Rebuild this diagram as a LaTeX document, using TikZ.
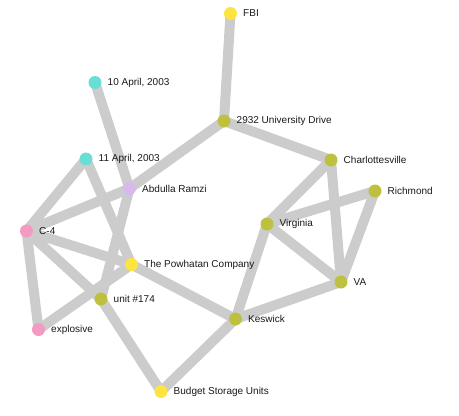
\documentclass[tikz,border=0pt]{standalone}
\usepackage{fontspec}
\setmainfont{Liberation Sans}
\usetikzlibrary{backgrounds}
\definecolor{nyellow}{HTML}{FDE43F}
\definecolor{ncyan}{HTML}{6ADDD6}
\definecolor{nlilac}{HTML}{D9B8F0}
\definecolor{npink}{HTML}{F49AC2}
\definecolor{nolive}{HTML}{C0C040}
\definecolor{edgegray}{HTML}{CCCCCC}
\begin{document}
\begin{tikzpicture}[x=1pt, y=-1pt,
  ent/.style={circle, inner sep=0pt, minimum size=13pt, fill=#1},
  every label/.style={font=\fontsize{10}{12}\selectfont, text=black!90, label distance=2.5pt},
  link/.style={edgegray, line width=10pt}]
  \useasboundingbox (0,0) rectangle (459,416);
  % --- entities ------------------------------------------------------
  \node[ent=nyellow, label=right:FBI]                  (fbi)   at (230.5, 13.5) {};
  \node[ent=ncyan,   label=right:{10 April, 2003}]     (apr10) at (95, 82.5) {};
  \node[ent=nolive,  label=right:2932 University Drive] (univ) at (224, 121) {};
  \node[ent=ncyan,   label=right:{11 April, 2003}]     (apr11) at (86, 159) {};
  \node[ent=nolive,  label=right:Charlottesville]      (cville) at (331, 160) {};
  \node[ent=nlilac,  label=right:Abdulla Ramzi]        (ramzi) at (129.5, 188.5) {};
  \node[ent=nolive,  label=right:Richmond]             (rich)  at (375, 191) {};
  \node[ent=nolive,  label=right:Virginia]             (virg)  at (267, 224) {};
  \node[ent=npink,   label=right:C-4]                  (cfour) at (26.5, 231) {};
  \node[ent=nyellow, label=right:The Powhatan Company] (powh)  at (131.5, 264.5) {};
  \node[ent=nolive,  label=right:VA]                   (va)    at (341, 282) {};
  \node[ent=nolive,  label=right:unit \#174]           (unit)  at (101, 299) {};
  \node[ent=nolive,  label=right:Keswick]              (kesw)  at (235.5, 319) {};
  \node[ent=npink,   label=right:explosive]            (expl)  at (38.5, 329.5) {};
  \node[ent=nyellow, label=right:Budget Storage Units] (budget) at (161, 391.5) {};
  % --- links (behind the entities) -----------------------------------
  \begin{scope}[on background layer]
    \draw[link] (fbi.center) -- (univ.center);
    \draw[link] (univ.center) -- (cville.center);
    \draw[link] (univ.center) -- (ramzi.center);
    \draw[link] (apr10.center) -- (ramzi.center);
    \draw[link] (ramzi.center) -- (cfour.center);
    \draw[link] (ramzi.center) -- (unit.center);
    \draw[link] (apr11.center) -- (cfour.center);
    \draw[link] (apr11.center) -- (powh.center);
    \draw[link] (cfour.center) -- (powh.center);
    \draw[link] (cfour.center) -- (unit.center);
    \draw[link] (cfour.center) -- (expl.center);
    \draw[link] (expl.center) -- (powh.center);
    \draw[link] (powh.center) -- (kesw.center);
    \draw[link] (unit.center) -- (budget.center);
    \draw[link] (budget.center) -- (kesw.center);
    \draw[link] (kesw.center) -- (virg.center);
    \draw[link] (kesw.center) -- (va.center);
    \draw[link] (virg.center) -- (cville.center);
    \draw[link] (virg.center) -- (rich.center);
    \draw[link] (virg.center) -- (va.center);
    \draw[link] (cville.center) -- (va.center);
    \draw[link] (rich.center) -- (va.center);
  \end{scope}
\end{tikzpicture}
\end{document}
